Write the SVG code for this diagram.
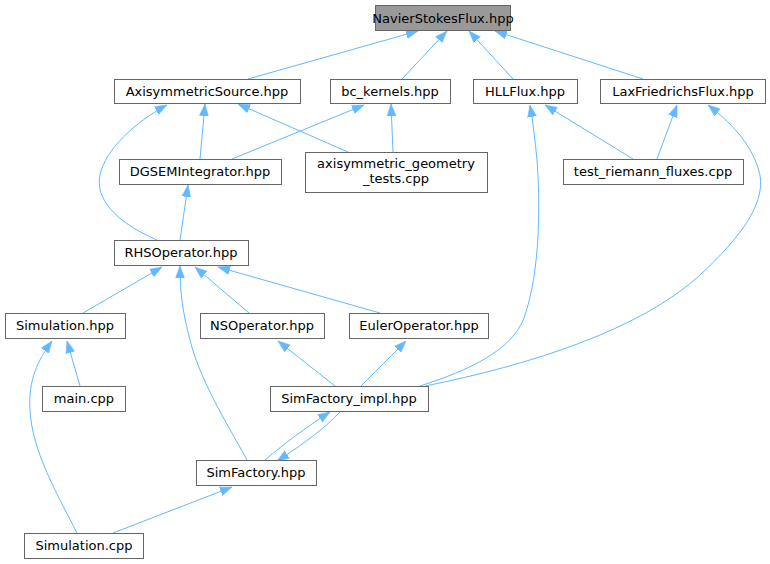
<svg xmlns="http://www.w3.org/2000/svg" width="770" height="564" viewBox="0 0 770 564">
<style>
.n rect{fill:#ffffff;stroke:#666666;stroke-width:1}
.n text{font-family:"DejaVu Sans",sans-serif;font-size:13px;text-anchor:middle;fill:#000000}
#n0 rect{fill:#999999}
.e path{fill:none;stroke:#63b8ff;stroke-width:1;marker-end:url(#a)}
</style>
<defs>
<marker id="a" markerUnits="userSpaceOnUse" markerWidth="13" markerHeight="10" refX="12" refY="5" orient="auto">
<path d="M0,0.5 L12,5 L0,9.5 z" fill="#63b8ff" stroke="#63b8ff" stroke-width="0.5"/>
</marker>
</defs>
<rect width="770" height="564" fill="#ffffff"/>
<g class="e" id="edges">
<path d="M248,79 L418,31"/>
<path d="M402,79 L447,31"/>
<path d="M513,79 L469,31"/>
<path d="M643,79 L495,31"/>
<path d="M200,159 L205,104"/>
<path d="M348,152 L238,104"/>
<path d="M157,240 C115,222 95,198 100,175 C105,150 135,122 167,105"/>
<path d="M232,159 L364,105"/>
<path d="M393,152 L391,104"/>
<path d="M420,386 C470,370 512,350 524,318 C541,270 540,200 537,160 C535,140 533,122 530,105"/>
<path d="M633,159 L545,105"/>
<path d="M657,159 L677,105"/>
<path d="M425,386 C530,365 640,330 700,275 C740,238 770,200 758,168 C750,142 730,122 708,105"/>
<path d="M180,240 L188,185"/>
<path d="M83,313 L162,267"/>
<path d="M249,313 L195,267"/>
<path d="M380,313 L218,267"/>
<path d="M247,460 C225,420 200,380 190,340 C182,310 180,290 180,266"/>
<path d="M80,386 L67,341"/>
<path d="M77,533 C55,490 32,450 30,410 C28,380 38,360 52,341"/>
<path d="M335,386 L278,341"/>
<path d="M361,386 L406,341"/>
<path d="M265,460 C285,443 305,428 330,412"/>
<path d="M341,411 C325,428 305,443 277,461"/>
<path d="M113,533 L232,487"/>
</g>
<g class="n" id="n0"><rect x="375.5" y="5.5" width="135" height="25"/><text x="443" y="22.5">NavierStokesFlux.hpp</text></g>
<g class="n" id="n1"><rect x="114.5" y="79.5" width="186" height="24"/><text x="207" y="96">AxisymmetricSource.hpp</text></g>
<g class="n" id="n2"><rect x="330.5" y="79.5" width="120" height="24"/><text x="390" y="96">bc_kernels.hpp</text></g>
<g class="n" id="n3"><rect x="473.5" y="79.5" width="104" height="24"/><text x="525" y="96">HLLFlux.hpp</text></g>
<g class="n" id="n4"><rect x="600.5" y="79.5" width="165" height="24"/><text x="683" y="96">LaxFriedrichsFlux.hpp</text></g>
<g class="n" id="n5"><rect x="119.5" y="159.5" width="162" height="25"/><text x="200" y="176">DGSEMIntegrator.hpp</text></g>
<g class="n" id="n6"><rect x="305.5" y="152.5" width="182" height="40"/><text x="396" y="168">axisymmetric_geometry</text><text x="396" y="183">_tests.cpp</text></g>
<g class="n" id="n7"><rect x="563.5" y="159.5" width="180" height="25"/><text x="653" y="176">test_riemann_fluxes.cpp</text></g>
<g class="n" id="n8"><rect x="114.5" y="240.5" width="134" height="25"/><text x="181" y="257">RHSOperator.hpp</text></g>
<g class="n" id="n9"><rect x="5.5" y="313.5" width="120" height="25"/><text x="65" y="330">Simulation.hpp</text></g>
<g class="n" id="n10"><rect x="200.5" y="313.5" width="124" height="25"/><text x="262" y="330">NSOperator.hpp</text></g>
<g class="n" id="n11"><rect x="349.5" y="313.5" width="139" height="25"/><text x="419" y="330">EulerOperator.hpp</text></g>
<g class="n" id="n12"><rect x="42.5" y="386.5" width="83" height="25"/><text x="84" y="403">main.cpp</text></g>
<g class="n" id="n13"><rect x="270.5" y="386.5" width="158" height="25"/><text x="349" y="403">SimFactory_impl.hpp</text></g>
<g class="n" id="n14"><rect x="196.5" y="460.5" width="120" height="25"/><text x="256" y="477">SimFactory.hpp</text></g>
<g class="n" id="n15"><rect x="24.5" y="533.5" width="119" height="25"/><text x="84" y="550">Simulation.cpp</text></g>
</svg>
